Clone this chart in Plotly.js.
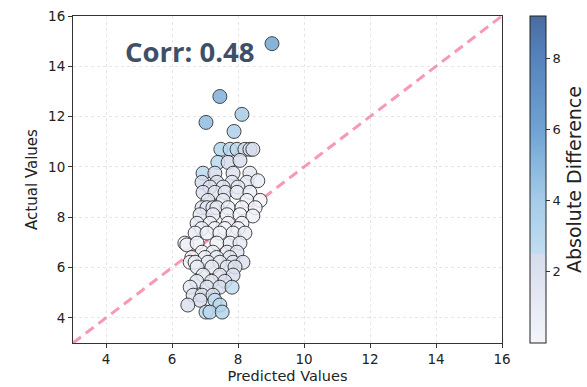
<!DOCTYPE html>
<html>
<head>
<meta charset="utf-8">
<script src="https://cdn.plot.ly/plotly-3.0.1.min.js"></script>
<style>
  html, body { margin: 0; padding: 0; background: #ffffff; }
  #chart { width: 587px; height: 387px; }
</style>
</head>
<body>
<div id="chart"></div>
<script>
// Model predictions and observed values, one entry per sample
const predicted = [
  9.03, 7.45, 7.03, 8.12, 7.88,
  7.48, 7.76, 7.97, 8.21, 8.36, 8.45,
  7.39, 7.70, 8.06,
  6.94, 7.30, 7.85, 8.36,
  6.91, 7.36, 7.82, 8.27, 8.60,
  7.15, 7.55, 8.00,
  6.94, 7.30, 7.61, 7.97, 8.36,
  7.09, 7.55, 8.27, 8.67,
  6.91, 7.06, 7.24, 7.36, 7.70, 8.12, 8.52,
  6.85, 7.24, 7.67, 8.06, 8.45,
  6.76, 7.15, 7.70, 8.12,
  6.90, 7.30, 7.60, 8.00,
  6.70, 7.06, 7.45, 7.85, 8.21,
  6.39, 6.45, 6.76, 7.36, 7.76, 8.06,
  6.91, 7.24, 7.67, 7.97,
  6.60, 7.00, 7.35, 7.75,
  6.55, 6.70, 7.09, 7.45, 7.85, 8.15,
  6.76, 7.21, 7.67, 7.91,
  6.94, 7.45, 7.85,
  6.75, 7.20, 7.60,
  6.55, 7.06, 7.45, 7.82,
  6.64, 6.91, 7.24,
  6.85, 7.30,
  6.48, 7.45,
  7.03, 7.15, 7.52
];
const actual = [
  14.90, 12.80, 11.77, 12.09, 11.41,
  10.70, 10.70, 10.70, 10.70, 10.70, 10.70,
  10.18, 10.18, 10.26,
  9.75, 9.75, 9.75, 9.75,
  9.39, 9.39, 9.39, 9.39, 9.45,
  9.20, 9.20, 9.20,
  8.99, 8.99, 8.99, 8.99, 8.99,
  8.67, 8.67, 8.67, 8.67,
  8.38, 8.38, 8.38, 8.38, 8.38, 8.38, 8.38,
  8.10, 8.10, 8.10, 8.10, 8.05,
  7.76, 7.76, 7.76, 7.76,
  7.55, 7.55, 7.55, 7.55,
  7.37, 7.37, 7.37, 7.37, 7.37,
  6.97, 6.90, 6.97, 6.97, 6.97, 6.97,
  6.61, 6.61, 6.61, 6.61,
  6.40, 6.40, 6.40, 6.40,
  6.21, 6.21, 6.21, 6.21, 6.21, 6.21,
  6.02, 6.02, 6.02, 6.02,
  5.70, 5.70, 5.70,
  5.45, 5.45, 5.45,
  5.22, 5.22, 5.22, 5.22,
  4.90, 4.90, 4.90,
  4.70, 4.70,
  4.51, 4.51,
  4.23, 4.23, 4.23
];
const axisTicks = [4, 6, 8, 10, 12, 14, 16];
const colorTicks = [2, 4, 6, 8];
const corrLabel = 'Corr: 0.48';

const absDiff = actual.map((a, i) => Math.abs(a - predicted[i]));
const cMax = 9.2;

// pale lavender-grey up to ~2.5, then a sky-to-steel blue ramp
const diffScale = [
  [0.0, '#f4f5fa'],
  [0.272, '#d6dcec'],
  [0.2721, '#c2ddf0'],
  [0.435, '#a5cce8'],
  [0.652, '#6fa3d3'],
  [0.87, '#5683bd'],
  [1.0, '#4a6c9e']
];

const points = {
  type: 'scatter',
  mode: 'markers',
  x: predicted,
  y: actual,
  marker: {
    size: 14,
    color: absDiff,
    cmin: 0,
    cmax: cMax,
    colorscale: diffScale,
    opacity: 0.85,
    line: { color: '#262626', width: 1 },
    colorbar: {
      x: 1.065,
      xanchor: 'left',
      y: 0.5,
      yanchor: 'middle',
      len: 1,
      lenmode: 'fraction',
      thickness: 16,
      xpad: 0,
      ypad: 0,
      outlinewidth: 1,
      outlinecolor: '#222',
      ticks: 'outside',
      ticklen: 4,
      tickcolor: '#333',
      tickvals: colorTicks,
      tickfont: { family: 'DejaVu Sans', size: 13, color: '#222' },
      title: {
        text: 'Absolute Difference',
        side: 'right',
        font: { family: 'DejaVu Sans', size: 19, color: '#222' }
      }
    }
  },
  hoverinfo: 'x+y',
  showlegend: false
};

// perfect-prediction reference line y = x
const identity = {
  type: 'scatter',
  mode: 'lines',
  x: [3, 16],
  y: [3, 16],
  line: { color: 'rgba(246,112,150,0.72)', width: 3, dash: '10px,6px' },
  hoverinfo: 'skip',
  showlegend: false
};

const axisCommon = {
  range: [3, 16],
  tickvals: axisTicks,
  ticks: 'outside',
  ticklen: 4,
  tickcolor: '#333',
  tickfont: { family: 'DejaVu Sans', size: 13.5, color: '#222' },
  showline: true,
  linecolor: '#333',
  linewidth: 1,
  mirror: true,
  showgrid: true,
  gridcolor: '#e6e6e6',
  griddash: '3px,3px',
  gridwidth: 1,
  zeroline: false
};

const layout = {
  width: 587,
  height: 387,
  margin: { l: 73, r: 85, t: 16, b: 44, autoexpand: false },
  paper_bgcolor: '#ffffff',
  plot_bgcolor: '#ffffff',
  xaxis: Object.assign({}, axisCommon, {
    title: { text: 'Predicted Values', font: { family: 'DejaVu Sans', size: 14.5, color: '#222' }, standoff: 4 }
  }),
  yaxis: Object.assign({}, axisCommon, {
    title: { text: 'Actual Values', font: { family: 'DejaVu Sans', size: 15, color: '#222' }, standoff: 6 }
  }),
  annotations: [{
    x: 6.55,
    y: 14.6,
    xref: 'x',
    yref: 'y',
    text: '<b>' + corrLabel + '</b>',
    showarrow: false,
    font: { family: 'Open Sans', size: 27.5, color: '#3e4f68' }
  }]
};

Plotly.newPlot('chart', [identity, points], layout, { displayModeBar: false, staticPlot: true });
</script>
</body>
</html>
